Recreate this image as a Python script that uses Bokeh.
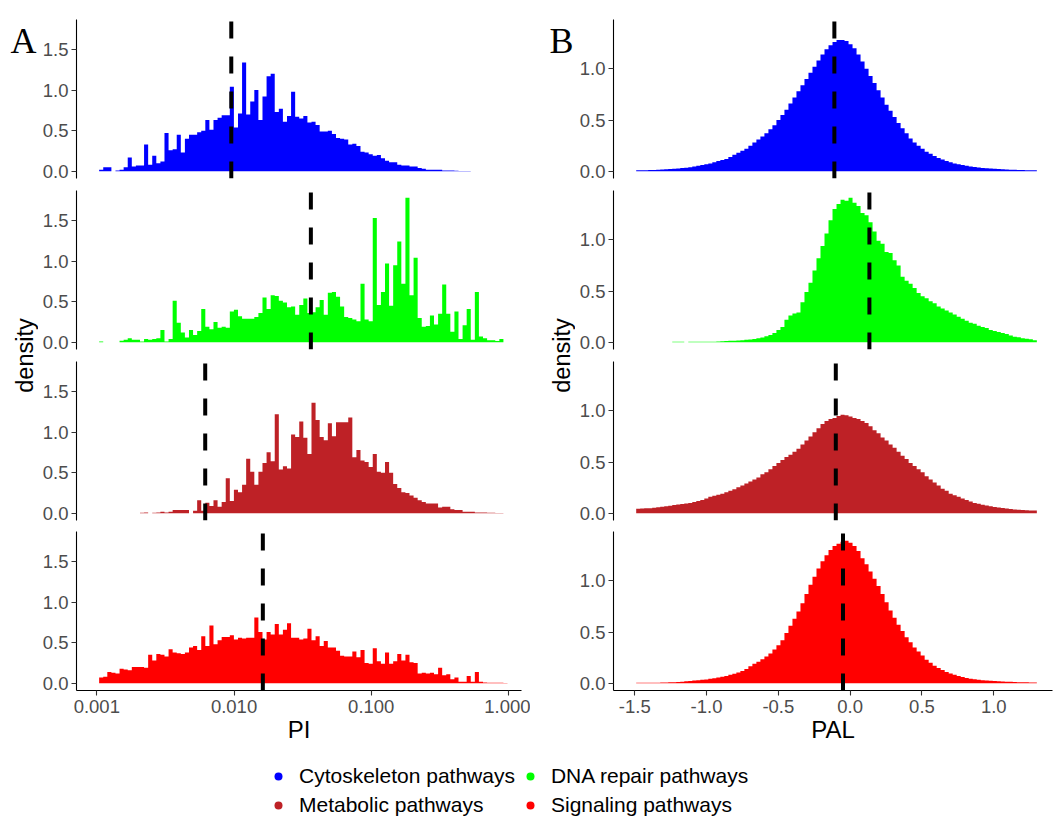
import math
from bokeh.plotting import figure
from bokeh.models import (Range1d, FixedTicker, PrintfTickFormatter, Label, Legend,
                          LegendItem, GridBox)
from bokeh.embed import file_html
from bokeh.resources import INLINE

# ---------------- data ----------------
groups = ["Cytoskeleton pathways", "DNA repair pathways", "Metabolic pathways", "Signaling pathways"]
colors = ["#0000FF", "#00FF00", "#BE2126", "#FF0000"]

# PI histograms: 100 bins on log10(PI)
pi_bin_start = -2.983
pi_bin_width = 0.02976
pi_cyto = [0.02, 0.05, 0.05, 0.0, 0.01, 0.02, 0.05, 0.17, 0.06, 0.07,
           0.07, 0.33, 0.08, 0.19, 0.10, 0.12, 0.47, 0.26, 0.27, 0.45,
           0.23, 0.40, 0.45, 0.45, 0.48, 0.50, 0.63, 0.51, 0.63, 0.66,
           0.69, 0.69, 1.04, 0.54, 0.71, 1.34, 0.70, 0.86, 1.00, 0.63,
           0.92, 1.17, 1.20, 0.73, 0.77, 0.61, 0.68, 0.98, 0.67, 0.65,
           0.68, 0.60, 0.61, 0.57, 0.49, 0.49, 0.50, 0.46, 0.41, 0.40,
           0.39, 0.33, 0.34, 0.31, 0.24, 0.23, 0.21, 0.19, 0.20, 0.16,
           0.13, 0.11, 0.11, 0.08, 0.07, 0.07, 0.06, 0.06, 0.04, 0.03,
           0.02, 0.02, 0.02, 0.02, 0.01, 0.01, 0.01, 0.005, 0.003, 0.002,
           0.002, 0, 0, 0, 0, 0, 0, 0, 0, 0]
pi_dna = [0.01, 0, 0, 0, 0, 0.02, 0.03, 0.05, 0.03, 0.03,
          0.01, 0.04, 0.03, 0.04, 0.05, 0.15, 0.01, 0.04, 0.51, 0.24,
          0.12, 0.06, 0.15, 0.09, 0.14, 0.41, 0.19, 0.16, 0.25, 0.18,
          0.19, 0.18, 0.38, 0.40, 0.32, 0.29, 0.29, 0.29, 0.31, 0.36,
          0.55, 0.41, 0.58, 0.57, 0.51, 0.49, 0.43, 0.44, 0.34, 0.46,
          0.54, 0.36, 0.37, 0.43, 0.52, 0.34, 0.61, 0.62, 0.56, 0.44,
          0.31, 0.30, 0.28, 0.26, 0.72, 0.28, 0.26, 1.53, 0.46, 0.62,
          0.97, 0.45, 0.95, 1.24, 0.72, 1.78, 0.58, 1.04, 0.30, 0.19,
          0.20, 0.33, 0.22, 0.35, 0.71, 0.35, 0.13, 0.38, 0.04, 0.21,
          0.41, 0.03, 0.62, 0.07, 0.05, 0.025, 0.025, 0.015, 0.04, 0]
pi_metab = [0, 0, 0, 0, 0, 0, 0, 0, 0, 0,
            0.005, 0.01, 0, 0.005, 0.01, 0.02, 0.01, 0.02, 0.04, 0.04,
            0.04, 0.04, 0, 0.03, 0.16, 0.03, 0.13, 0.09, 0.16, 0.08,
            0.14, 0.43, 0.15, 0.29, 0.26, 0.35, 0.67, 0.51, 0.35, 0.51,
            0.62, 0.75, 0.64, 1.22, 0.54, 0.58, 0.55, 0.97, 0.94, 1.13,
            0.93, 0.73, 1.36, 1.15, 0.94, 0.90, 1.11, 0.95, 1.12, 1.12,
            1.12, 1.18, 0.69, 0.78, 0.65, 0.63, 0.57, 0.73, 0.51, 0.50,
            0.63, 0.50, 0.36, 0.31, 0.26, 0.25, 0.22, 0.19, 0.16, 0.14,
            0.12, 0.12, 0.12, 0.07, 0.08, 0.08, 0.05, 0.04, 0.04, 0.02,
            0.02, 0.02, 0.01, 0.01, 0.01, 0.005, 0.005, 0.003, 0.002, 0]
pi_signal = [0.07, 0.08, 0.14, 0.13, 0.12, 0.18, 0.17, 0.16, 0.20, 0.20,
             0.20, 0.19, 0.35, 0.28, 0.36, 0.35, 0.33, 0.42, 0.38, 0.37,
             0.36, 0.38, 0.44, 0.46, 0.41, 0.58, 0.46, 0.71, 0.48, 0.53,
             0.57, 0.57, 0.59, 0.54, 0.56, 0.55, 0.56, 0.56, 0.81, 0.63,
             0.54, 0.63, 0.60, 0.73, 0.60, 0.66, 0.74, 0.56, 0.56, 0.54,
             0.55, 0.67, 0.53, 0.58, 0.46, 0.52, 0.44, 0.44, 0.40, 0.34,
             0.33, 0.33, 0.39, 0.32, 0.41, 0.25, 0.24, 0.43, 0.27, 0.24,
             0.38, 0.24, 0.27, 0.36, 0.28, 0.35, 0.26, 0.25, 0.12, 0.13,
             0.12, 0.13, 0.11, 0.19, 0.10, 0.11, 0.05, 0.07, 0.02, 0.02,
             0.09, 0.02, 0.14, 0.02, 0.01, 0.005, 0.005, 0.005, 0.005, 0.003]
pi_median_log10 = [-2.02, -1.44, -2.21, -1.79]

# PAL histograms: 100 bins
pal_bin_start = -1.49
pal_bin_width = 0.0279
pal_cyto = [0.010, 0.010, 0.011, 0.012, 0.013, 0.015, 0.017, 0.019, 0.021, 0.024,
            0.027, 0.031, 0.035, 0.040, 0.046, 0.053, 0.060, 0.068, 0.077, 0.088,
            0.10, 0.11, 0.12, 0.14, 0.16, 0.18, 0.20, 0.22, 0.25, 0.28,
            0.31, 0.34, 0.37, 0.41, 0.45, 0.50, 0.55, 0.60, 0.66, 0.72,
            0.78, 0.84, 0.90, 0.96, 1.02, 1.08, 1.14, 1.19, 1.23, 1.26,
            1.28, 1.28, 1.27, 1.24, 1.20, 1.14, 1.07, 1.00, 0.93, 0.86,
            0.79, 0.72, 0.65, 0.59, 0.53, 0.47, 0.42, 0.37, 0.32, 0.28,
            0.25, 0.22, 0.19, 0.17, 0.15, 0.13, 0.115, 0.10, 0.088, 0.077,
            0.068, 0.060, 0.053, 0.047, 0.042, 0.037, 0.033, 0.030, 0.027, 0.024,
            0.022, 0.020, 0.018, 0.016, 0.015, 0.013, 0.012, 0.011, 0.010, 0.009]
pal_dna = [0, 0, 0, 0, 0, 0, 0, 0, 0, 0.004,
           0.004, 0.004, 0, 0.004, 0.004, 0.005, 0.005, 0.005, 0.006, 0.006,
           0.007, 0.010, 0.012, 0.014, 0.016, 0.018, 0.020, 0.024, 0.028, 0.033,
           0.040, 0.047, 0.058, 0.072, 0.09, 0.12, 0.15, 0.22, 0.26, 0.28,
           0.29, 0.39, 0.49, 0.58, 0.70, 0.82, 0.94, 1.06, 1.19, 1.30,
           1.35, 1.39, 1.38, 1.41, 1.36, 1.33, 1.26, 1.24, 1.17, 1.08,
           0.99, 0.96, 0.88, 0.87, 0.80, 0.75, 0.64, 0.60, 0.57, 0.53,
           0.48, 0.45, 0.43, 0.40, 0.38, 0.35, 0.33, 0.31, 0.29, 0.27,
           0.25, 0.23, 0.21, 0.19, 0.18, 0.16, 0.15, 0.14, 0.12, 0.11,
           0.10, 0.09, 0.08, 0.065, 0.055, 0.05, 0.04, 0.035, 0.03, 0.02]
pal_metab = [0.045, 0.046, 0.048, 0.050, 0.054, 0.058, 0.063, 0.068, 0.074, 0.080,
             0.086, 0.091, 0.096, 0.10, 0.11, 0.12, 0.13, 0.145, 0.16, 0.17,
             0.18, 0.19, 0.205, 0.22, 0.235, 0.255, 0.27, 0.29, 0.31, 0.33,
             0.35, 0.38, 0.40, 0.43, 0.46, 0.49, 0.52, 0.55, 0.57, 0.60,
             0.63, 0.67, 0.71, 0.75, 0.79, 0.83, 0.87, 0.90, 0.92, 0.93,
             0.95, 0.96, 0.955, 0.945, 0.93, 0.92, 0.90, 0.88, 0.85, 0.81,
             0.78, 0.74, 0.71, 0.67, 0.64, 0.60, 0.56, 0.53, 0.49, 0.46,
             0.43, 0.40, 0.36, 0.33, 0.30, 0.27, 0.24, 0.22, 0.19, 0.175,
             0.16, 0.145, 0.13, 0.115, 0.10, 0.092, 0.083, 0.075, 0.068, 0.062,
             0.056, 0.051, 0.046, 0.042, 0.038, 0.035, 0.032, 0.030, 0.028, 0.026]
pal_signal = [0.004, 0.004, 0.005, 0.005, 0.006, 0.006, 0.007, 0.008, 0.009, 0.011,
              0.013, 0.016, 0.019, 0.022, 0.026, 0.030, 0.034, 0.038, 0.043, 0.049,
              0.056, 0.063, 0.072, 0.082, 0.092, 0.105, 0.12, 0.14, 0.165, 0.19,
              0.21, 0.235, 0.26, 0.29, 0.33, 0.37, 0.42, 0.49, 0.56, 0.63,
              0.70, 0.78, 0.87, 0.96, 1.04, 1.12, 1.19, 1.25, 1.30, 1.34,
              1.36, 1.38, 1.39, 1.37, 1.34, 1.29, 1.22, 1.16, 1.09, 1.02,
              0.95, 0.87, 0.79, 0.71, 0.64, 0.57, 0.51, 0.45, 0.40, 0.35,
              0.31, 0.27, 0.23, 0.20, 0.17, 0.15, 0.13, 0.11, 0.095, 0.082,
              0.070, 0.060, 0.052, 0.045, 0.039, 0.034, 0.030, 0.027, 0.024, 0.022,
              0.020, 0.018, 0.016, 0.014, 0.013, 0.011, 0.010, 0.009, 0.008, 0.007]
pal_median = [-0.11, 0.134, -0.10, -0.05]

pi_ticks = [-3, -2, -1, 0]
pi_tick_labels = ["0.001", "0.010", "0.100", "1.000"]
pal_ticks = [-1.5, -1.0, -0.5, 0.0, 0.5, 1.0]

pi_series = [pi_cyto, pi_dna, pi_metab, pi_signal]
pal_series = [pal_cyto, pal_dna, pal_metab, pal_signal]

# ---------------- layout ----------------
FONT = "Liberation Sans"
row_heights = [184, 171, 171, 224]
row_top = [19, 6, 6, 5]
row_bottom = [6, 6, 6, 60]

STRIP_L_W, PANEL_L_W = 38, 492     # 0..38, 38..530  (frame 76..521)
STRIP_R_W, PANEL_R_W = 45, 487     # 530..575, 575..1062 (frame 613..1052)

pi_max = max(max(s) for s in pi_series)
pal_max = max(max(s) for s in pal_series)

pi_x = Range1d(-3.148, 0.095)
pal_x = Range1d(-1.648, 1.409)


def style_axis(ax):
    ax.axis_line_color = "black"
    ax.axis_line_width = 1.1
    ax.major_tick_line_color = "#333333"
    ax.major_tick_line_width = 1.1
    ax.major_tick_out = 5
    ax.major_tick_in = 0
    ax.minor_tick_line_color = None
    ax.major_label_text_font = FONT
    ax.major_label_text_font_size = "18.5px"
    ax.major_label_text_color = "#4D4D4D"
    ax.major_label_standoff = 3


def make_panel(r, vals, median, color, kind):
    bottom = (r == 3)
    if kind == "pi":
        xr, ymax = pi_x, pi_max
        start, width = pi_bin_start, pi_bin_width
        fw, bl, br = PANEL_L_W, 38, 9
        yt = [0, 0.5, 1.0, 1.5]
    else:
        xr, ymax = pal_x, pal_max
        start, width = pal_bin_start, pal_bin_width
        fw, bl, br = PANEL_R_W, 38, 10
        yt = [0, 0.5, 1.0]
    yr = Range1d(-0.05 * ymax, 1.05 * ymax)
    p = figure(width=fw, height=row_heights[r], x_range=xr, y_range=yr,
               output_backend="svg", toolbar_location=None, title=None,
               x_axis_location="below" if bottom else None, y_axis_location="left",
               min_border_left=bl, min_border_right=br, min_border_top=row_top[r],
               min_border_bottom=row_bottom[r])
    for g in p.grid:
        g.visible = False
    p.outline_line_color = None
    p.background_fill_color = "white"

    # histogram bars as one stepped area (bin edges from start/width)
    edges = [start + i * width for i in range(len(vals) + 1)]
    heights = list(vals) + [0]
    p.varea_step(x=edges, y1=[0] * len(edges), y2=heights, step_mode="after",
                 fill_color=color)
    p.segment(x0=[median], y0=[yr.start], x1=[median], y1=[yr.end],
              line_color="black", line_width=4, line_dash="17 18")

    for ax in p.yaxis:
        style_axis(ax)
        ax.ticker = FixedTicker(ticks=yt)
        ax.formatter = PrintfTickFormatter(format="%.1f")
    if bottom:
        for ax in p.xaxis:
            style_axis(ax)
            ax.major_label_standoff = 4
            ax.axis_label_text_font = FONT
            ax.axis_label_text_font_size = "24px"
            ax.axis_label_text_font_style = "normal"
            ax.axis_label_text_color = "black"
            ax.axis_label_standoff = 0
            if kind == "pi":
                ax.ticker = FixedTicker(ticks=pi_ticks)
                ax.major_label_overrides = {t: s for t, s in zip(pi_ticks, pi_tick_labels)}
                ax.axis_label = "PI"
            else:
                ax.ticker = FixedTicker(ticks=pal_ticks)
                ax.formatter = PrintfTickFormatter(format="%.1f")
                ax.axis_label = "PAL"
    return p


# the strip's frame is aligned by the grid with the panel frames (y 19..690 px)
FRAME_TOP = row_top[0]
FRAME_BOTTOM = sum(row_heights) - row_bottom[3]


def make_strip(w, letter, letter_x, dens_x):
    total_h = sum(row_heights)
    s = figure(width=w, height=total_h, x_range=Range1d(0, w),
               y_range=Range1d(FRAME_BOTTOM, FRAME_TOP),
               output_backend="svg", toolbar_location=None, title=None,
               x_axis_location=None, y_axis_location=None,
               min_border_left=0, min_border_right=0, min_border_top=0, min_border_bottom=0)
    for g in s.grid:
        g.visible = False
    s.outline_line_color = None
    s.add_layout(Label(x=letter_x, y=40, text=letter, text_font="Liberation Serif",
                       text_font_size="36px", text_color="black",
                       text_align="left", text_baseline="alphabetic"))
    s.add_layout(Label(x=dens_x, y=355, text="density", text_font=FONT,
                       text_font_size="23.5px", text_color="black", angle=math.pi / 2,
                       text_align="center", text_baseline="middle"))
    return s


strip_l = make_strip(STRIP_L_W, "A", 10, 24)
strip_r = make_strip(STRIP_R_W, "B", 19, 31)

children = [(strip_l, 0, 0, 4, 1), (strip_r, 0, 2, 4, 1)]
for r in range(4):
    children.append((make_panel(r, pi_series[r], pi_median_log10[r], colors[r], "pi"), r, 1))
    children.append((make_panel(r, pal_series[r], pal_median[r], colors[r], "pal"), r, 3))

# legend
leg_h = 819 - sum(row_heights)
lg = figure(width=1062, height=leg_h, x_range=Range1d(0, 1062), y_range=Range1d(0, leg_h),
            output_backend="svg", toolbar_location=None, title=None,
            x_axis_location=None, y_axis_location=None,
            min_border_left=0, min_border_right=0, min_border_top=0, min_border_bottom=0)
for g in lg.grid:
    g.visible = False
lg.outline_line_color = None
items = []
for name, c in zip(groups, colors):
    rr = lg.scatter(x=[-100], y=[-100], marker="circle", size=8, fill_color=c, line_color=None)
    items.append(LegendItem(label=name, renderers=[rr]))
legend = Legend(items=items, location=(268, 2), orientation="horizontal", ncols=2,
                label_text_font=FONT, label_text_font_size="21px", label_text_color="black",
                glyph_width=20, glyph_height=24, label_height=24, label_standoff=11,
                spacing=5, padding=0, margin=0, border_line_color=None,
                background_fill_alpha=0)
lg.add_layout(legend)
children.append((lg, 4, 0, 1, 4))

grid = GridBox(children=children, spacing=0)

open("out.html", "w").write(file_html(grid, INLINE))
